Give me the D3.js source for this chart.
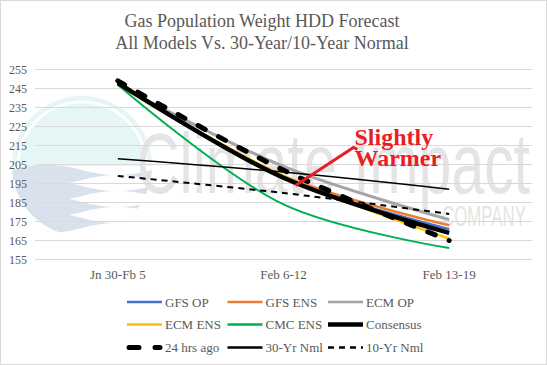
<!DOCTYPE html>
<html>
<head>
<meta charset="utf-8">
<script src="https://cdn.jsdelivr.net/npm/d3@7"></script>
<style>
  body { margin: 0; background: #fff; }
  text { font-family: "Liberation Serif", "Times New Roman", serif; }
</style>
</head>
<body>
<svg id="chart"></svg>
<script>
// week labels and series (HDD)
const weeks = ["Jn 30-Fb 5", "Feb 6-12", "Feb 13-19"];
const gfsOp = [248, 198, 171];
const gfsEns = [248, 199, 173];
const ecmOp = [247, 204, 176];
const ecmEns = [247, 199, 166];
const cmcEns = [247, 184, 161];
const consensus = [248, 198, 169];
const hrsAgo24 = [249, 202, 165];
const nml30 = [208, 201, 192];
const nml10 = [199, 190, 179];
const yTicks = [155, 165, 175, 185, 195, 205, 215, 225, 235, 245, 255];

const W = 547, H = 365;
const svg = d3.select("#chart").attr("width", W).attr("height", H);

svg.append("rect")
    .attr("x", 0.5).attr("y", 0.5)
    .attr("width", W - 1).attr("height", H - 1)
    .attr("fill", "#fff")
    .attr("stroke", "#d9d9d9");

const x = d3.scaleBand().domain(weeks).range([35, 532]);
const y = d3.scaleLinear().domain([155, 255]).range([259.5, 69.5]);
const cx = d => x(d) + x.bandwidth() / 2;

// watermark (logo + company name)
const wm = svg.append("g");
const logoX = 82, logoY = 166, logoR = 70;
wm.append("clipPath").attr("id", "logoClip")
    .append("circle").attr("cx", logoX).attr("cy", logoY).attr("r", logoR);
const logo = wm.append("g").attr("clip-path", "url(#logoClip)");
logo.append("rect")
    .attr("x", logoX - logoR).attr("y", logoY - logoR)
    .attr("width", logoR * 2).attr("height", logoR)
    .attr("fill", "#e6f5f6");
logo.append("circle").attr("cx", logoX).attr("cy", logoY).attr("r", logoR - 6)
    .attr("fill", "none").attr("stroke", "#fff").attr("stroke-width", 3);
[0, 1, 2, 3].forEach(i => {
    logo.append("path")
        .attr("d", `M${logoX - logoR},${logoY + 4 + i * 16} q35,-10 70,0 t70,0 v10 q-35,-10 -70,0 t-70,0 z`)
        .attr("fill", "#d9e1ec");
});
wm.append("text")
    .attr("x", 137).attr("y", 193)
    .attr("textLength", 393).attr("lengthAdjust", "spacingAndGlyphs")
    .style("font-family", "Liberation Sans, Arial, sans-serif")
    .style("font-size", "86px")
    .attr("fill", "#e4e4e4")
    .text("Climate Impact");
wm.append("text")
    .attr("x", 442).attr("y", 226)
    .attr("textLength", 84).attr("lengthAdjust", "spacingAndGlyphs")
    .style("font-family", "Liberation Sans, Arial, sans-serif")
    .style("font-size", "29px")
    .attr("fill", "#e4e4e4")
    .text("COMPANY");

// gridlines
svg.append("g")
    .selectAll("line")
    .data(yTicks)
    .enter().append("line")
    .attr("x1", 35).attr("x2", 532)
    .attr("y1", d => y(d)).attr("y2", d => y(d))
    .attr("stroke", "#d9d9d9")
    .attr("stroke-width", 1);

// axes
const yAxis = svg.append("g")
    .attr("transform", "translate(27,0)")
    .call(d3.axisLeft(y).tickValues(yTicks).tickSize(0).tickPadding(0));
yAxis.select(".domain").remove();
yAxis.selectAll("text")
    .attr("fill", "#595959")
    .style("font-size", "12px")
    .style("font-family", "Liberation Serif, serif");

const xAxis = svg.append("g")
    .attr("transform", "translate(0,270)")
    .call(d3.axisBottom(x).tickSize(0).tickPadding(0));
xAxis.select(".domain").remove();
xAxis.selectAll("text")
    .attr("fill", "#595959")
    .style("font-size", "13px")
    .style("font-family", "Liberation Serif, serif");

// series
const series = [
    { name: "GFS OP", values: gfsOp, color: "#4472c4", width: 2.5, dash: null },
    { name: "GFS ENS", values: gfsEns, color: "#ed7d31", width: 2.5, dash: null },
    { name: "ECM OP", values: ecmOp, color: "#a5a5a5", width: 3, dash: null },
    { name: "ECM ENS", values: ecmEns, color: "#ffc000", width: 2.5, dash: null },
    { name: "CMC ENS", values: cmcEns, color: "#00b050", width: 2, dash: null },
    { name: "Consensus", values: consensus, color: "#000", width: 4.5, dash: null },
    { name: "24 hrs ago", values: hrsAgo24, color: "#000", width: 5, dash: "8,15", cap: "round" },
    { name: "30-Yr Nml", values: nml30, color: "#000", width: 1.5, dash: null },
    { name: "10-Yr Nml", values: nml10, color: "#000", width: 2, dash: "6,5" }
];

const line = d3.line()
    .x((d, i) => cx(weeks[i]))
    .y(d => y(d))
    .curve(d3.curveCatmullRom.alpha(0.5));

series.forEach(s => {
    svg.append("path")
        .datum(s.values)
        .attr("d", line)
        .attr("fill", "none")
        .attr("stroke", s.color)
        .attr("stroke-width", s.width)
        .attr("stroke-linecap", s.cap || "butt")
        .attr("stroke-dasharray", s.dash);
});

// annotation
const ax = cx("Feb 6-12");
svg.append("polyline")
    .attr("points", `${ax + 12},${y(194)} ${ax + 70},${y(214)} ${ax + 74},${y(213)}`)
    .attr("fill", "none")
    .attr("stroke", "#ec1c24")
    .attr("stroke-width", 3);
svg.append("text")
    .attr("x", ax + 71).attr("y", y(215.5))
    .attr("fill", "#ec1c24")
    .style("font-size", "24px")
    .style("font-weight", "bold")
    .text("Slightly");
svg.append("text")
    .attr("x", ax + 71).attr("y", y(204))
    .attr("fill", "#ec1c24")
    .style("font-size", "24px")
    .style("font-weight", "bold")
    .text("Warmer");

// title
const title = svg.append("text")
    .attr("text-anchor", "middle")
    .attr("fill", "#595959")
    .style("font-size", "18px");
title.append("tspan").attr("x", 262).attr("y", 27).text("Gas Population Weight HDD Forecast");
title.append("tspan").attr("x", 262).attr("y", 49).text("All  Models Vs. 30-Year/10-Year  Normal");

// legend
const legendCols = [127, 227.5, 328];
const legendRows = [302, 324.5, 347.5];
series.forEach((s, i) => {
    const lx = legendCols[i % 3];
    const ly = legendRows[Math.floor(i / 3)];
    const g = svg.append("g").attr("transform", `translate(${lx},${ly})`);
    g.append("line")
        .attr("x1", s.cap ? 2 : 0).attr("x2", s.cap ? 33 : 35)
        .attr("y1", 0).attr("y2", 0)
        .attr("stroke", s.color)
        .attr("stroke-width", s.name === "Consensus" ? 4.5 : (s.name === "24 hrs ago" ? 5 : 2.5))
        .attr("stroke-linecap", s.cap || "butt")
        .attr("stroke-dasharray", s.name === "24 hrs ago" ? "10,16" : s.dash);
    g.append("text")
        .attr("x", 38).attr("y", 4.5)
        .attr("fill", "#595959")
        .style("font-size", "13px")
        .text(s.name);
});
</script>
</body>
</html>
